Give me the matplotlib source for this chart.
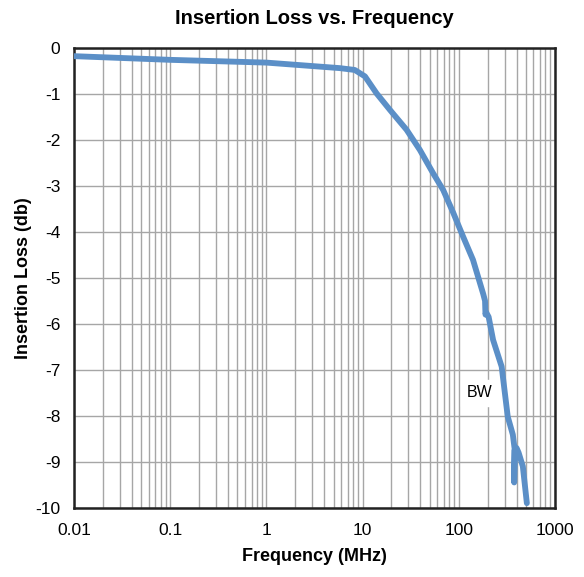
import numpy as np
import matplotlib.pyplot as plt
from matplotlib.ticker import LogLocator, FixedLocator, NullFormatter

plt.rcParams['font.family'] = ['Liberation Sans', 'DejaVu Sans']
plt.rcParams['axes.unicode_minus'] = False

# insertion loss curve
freq_mhz = [0.01, 0.1, 1, 5.8, 8.3, 10.6, 14, 19.3, 28.7, 39.5, 54, 69, 88,
            111, 141, 180, 188, 190, 193, 205, 228, 280, 324, 366, 382,
            378, 382, 400, 420, 465, 512]
loss_db = [-0.18, -0.26, -0.32, -0.44, -0.48, -0.62, -0.99, -1.35, -1.78,
           -2.22, -2.72, -3.09, -3.59, -4.1, -4.61, -5.35, -5.5, -5.8,
           -5.75, -5.85, -6.35, -6.93, -8.02, -8.41, -8.72, -9.45, -8.75,
           -8.7, -8.8, -9.1, -9.9]

x_ticks = [0.01, 0.1, 1, 10, 100, 1000]
x_labels = ['0.01', '0.1', '1', '10', '100', '1000']
y_ticks = list(range(-10, 1))

fig = plt.figure(figsize=(5.84, 5.77), dpi=100)
ax = fig.add_axes([0.127, 0.12, 0.823, 0.797])

ax.plot(freq_mhz, loss_db, color='#5b8fc7', linewidth=4.2,
        solid_capstyle='round', solid_joinstyle='round', zorder=3)

ax.set_xscale('log')
ax.set_xlim(0.01, 1000)
ax.set_ylim(-10, 0)
ax.xaxis.set_major_locator(FixedLocator(x_ticks))
ax.set_xticklabels(x_labels)
ax.xaxis.set_minor_locator(LogLocator(base=10, subs=np.arange(2, 10)))
ax.xaxis.set_minor_formatter(NullFormatter())
ax.set_yticks(y_ticks)

ax.grid(which='major', color='#a6a6a6', linewidth=1.0)
ax.grid(which='minor', axis='x', color='#a6a6a6', linewidth=1.0)
ax.set_axisbelow(True)
ax.tick_params(which='both', length=0, labelsize=12.5)
ax.tick_params(axis='x', pad=11)
ax.tick_params(axis='y', pad=10)
for sp in ax.spines.values():
    sp.set_linewidth(1.8)
    sp.set_color('#222222')

ax.set_title('Insertion Loss vs. Frequency', fontsize=14.5,
             fontweight='bold', pad=17)
ax.set_xlabel('Frequency (MHz)', fontsize=13, fontweight='bold', labelpad=7)
ax.set_ylabel('Insertion Loss (db)', fontsize=13, fontweight='bold',
              labelpad=2)

ax.text(166, -7.5, 'BW', fontsize=11.5, ha='center', va='center',
        backgroundcolor='white', zorder=2)

fig.savefig('out.png', dpi=100)
